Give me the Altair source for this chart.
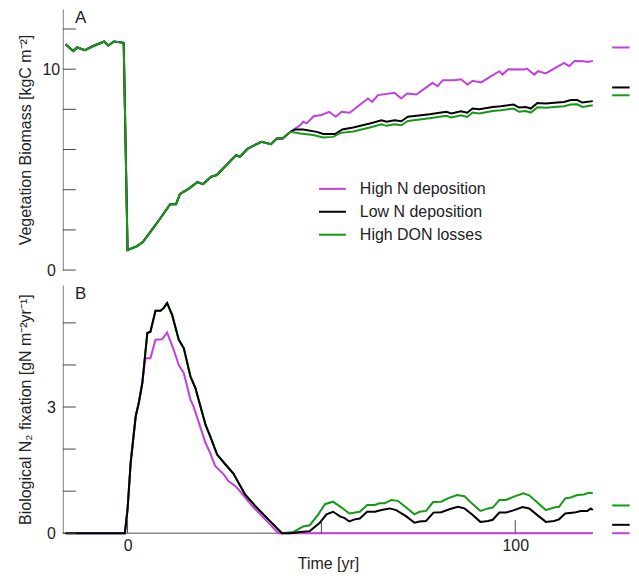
import altair as alt
import pandas as pd

SERIES = ["High N deposition", "Low N deposition", "High DON losses"]
COLORS = ["#C040E0", "#000000", "#149A14"]
FONT = "Liberation Sans"
TXT = "#222222"

X_DOMAIN = [-16.7, 129.6]
X_TICKS = [0, 50, 100]
X_LABELS = [0, 100]
AXIS_LINE_T = [-16.7, 120]

# ---------------- Panel A: vegetation biomass ----------------
bio_shared_t = [-16, -14, -13, -11, -9, -6, -5, -3.5, -1, 0, 2.5, 4, 7.5, 11, 12.5, 13.5,
                16, 18, 19.5, 21.5, 23, 28, 29, 31, 34.5, 37, 38.5, 40, 42]
bio_shared_v = [11.24, 10.9, 11.08, 10.95, 11.14, 11.38, 11.18, 11.38, 11.31, 1.0, 1.19, 1.41,
                2.32, 3.28, 3.28, 3.78, 4.08, 4.38, 4.28, 4.64, 4.73, 5.72, 5.64, 6.05, 6.38,
                6.27, 6.55, 6.55, 6.88]

hi_bio_t = [44.5, 45.3, 46.2, 48, 50, 52, 53.7, 55.2, 57.3, 62, 63.1, 64.6, 68.9, 70.6, 72.1,
            74.5, 78.7, 80, 81.3, 84.3, 86, 87.7, 89, 91.2, 93.8, 95.9, 96.7, 98.2, 102.3, 103,
            104.9, 105.9, 107.9, 110, 112.6, 113.9, 115.3, 117.7, 118.6, 120]
hi_bio_v = [7.21, 7.38, 7.3, 7.66, 7.72, 7.88, 7.63, 7.88, 7.83, 8.54, 8.37, 8.71, 8.82, 8.54,
            8.79, 8.74, 9.32, 9.15, 9.45, 9.45, 9.5, 9.24, 9.42, 9.34, 9.65, 9.9, 9.73, 10.0,
            9.98, 10.03, 9.73, 9.9, 9.79, 10.03, 10.31, 10.15, 10.41, 10.4, 10.36, 10.41]

lo_bio_t = [43.2, 45.3, 48.8, 50.5, 53.5, 55.4, 58.2, 62.5, 65.5, 66.8, 68.9, 70.6, 72.3, 77.9,
            82.2, 83.5, 84.3, 86, 87.6, 89, 90.7, 94.2, 96.3, 99.6, 101, 102.7, 104, 105.7,
            107.9, 110.9, 112.6, 114.3, 116, 117.3, 120]
lo_bio_v = [7.0, 7.0, 6.88, 6.77, 6.77, 7.0, 7.1, 7.3, 7.46, 7.38, 7.46, 7.41, 7.63, 7.76,
            7.88, 7.8, 7.83, 7.91, 7.83, 8.04, 8.01, 8.12, 8.16, 8.24, 8.09, 8.12, 8.04, 8.32,
            8.29, 8.34, 8.37, 8.46, 8.46, 8.34, 8.41]

don_bio_t = [42.8, 44.5, 47.9, 50.5, 53, 55, 58.2, 62.5, 65.5, 66.8, 68.9, 70.6, 72.3, 77.9,
             82.2, 83.5, 86, 87.6, 89, 90.7, 94.2, 96.3, 99.6, 101, 102.7, 104, 105.7, 107.9,
             110.9, 112.6, 114.3, 116, 117.3, 120]
don_bio_v = [6.86, 6.8, 6.72, 6.6, 6.63, 6.83, 6.9, 7.1, 7.26, 7.18, 7.26, 7.21, 7.42, 7.56,
             7.68, 7.6, 7.7, 7.62, 7.84, 7.8, 7.92, 7.95, 8.04, 7.88, 7.92, 7.84, 8.1, 8.08,
             8.13, 8.16, 8.24, 8.25, 8.12, 8.2]

bio_equilibrium = [11.08, 9.09, 8.7]          # purple, black, green
BIO_DOMAIN = [0, 13]
BIO_TICKS = [0, 2, 4, 6, 8, 10, 12]
BIO_LABELS = [0, 10]

# ---------------- Panel B: biological N2 fixation ----------------
fix_shared_t = [-16, -0.7, 0, 0.8, 2.1, 2.9, 3.8]
fix_shared_v = [0, 0, 0.57, 1.68, 2.78, 3.1, 3.57]

fix_peak_t = [5.1, 5.9, 7.2, 8.5, 9.3, 10.2, 11.5, 13.2, 14.5, 16.2, 17.5, 20.1, 21.3, 23.1,
              25.2, 27.3, 30.3, 32.9, 36.3, 39.8]
fix_peak_v = [4.76, 4.79, 5.29, 5.29, 5.35, 5.47, 5.19, 4.6, 4.4, 3.73, 3.45, 2.58, 2.31, 1.87,
              1.64, 1.42, 0.92, 0.65, 0.33, 0.0]

lo_fix_t = [42, 44.5, 47, 49.6, 51.3, 53, 54.8, 56, 57.2, 58.6, 59.9, 61.8, 63.8, 65.5, 67.6,
            69.3, 71.9, 74, 75.3, 77, 78.9, 80.9, 83, 85.2, 86.9, 88.8, 91, 93, 94.2, 95.9,
            97.6, 99.7, 101.9, 103.6, 105.7, 107.9, 110, 111.3, 112.9, 115.2, 116.9, 118.6,
            119.5, 120]
lo_fix_v = [0, 0.03, 0.05, 0.25, 0.45, 0.51, 0.4, 0.36, 0.28, 0.33, 0.35, 0.51, 0.51, 0.55,
            0.59, 0.55, 0.4, 0.25, 0.28, 0.29, 0.49, 0.5, 0.57, 0.63, 0.59, 0.45, 0.27, 0.29,
            0.32, 0.49, 0.49, 0.55, 0.62, 0.59, 0.43, 0.27, 0.29, 0.33, 0.47, 0.49, 0.53, 0.53,
            0.59, 0.55]

don_fix_t = [42.8, 45.3, 47, 49.2, 50.9, 53, 55.2, 57.2, 59.9, 61.8, 63.8, 65, 66.3, 68, 69.7,
             71.9, 74, 75.3, 77, 78.8, 80.9, 82.6, 85, 86.9, 88.8, 91, 93, 94.2, 95.9, 97.6,
             99.7, 102.1, 103.6, 105.7, 107.9, 110, 111.3, 112.9, 114.3, 116, 117.7, 119, 120]
don_fix_v = [0.03, 0.16, 0.19, 0.45, 0.69, 0.75, 0.61, 0.47, 0.51, 0.67, 0.67, 0.71, 0.71, 0.79,
             0.77, 0.61, 0.45, 0.51, 0.53, 0.74, 0.75, 0.83, 0.91, 0.88, 0.71, 0.53, 0.59, 0.61,
             0.79, 0.79, 0.87, 0.95, 0.9, 0.73, 0.55, 0.61, 0.63, 0.83, 0.85, 0.91, 0.92, 0.96,
             0.95]

hi_fix_t = [4.6, 5.9, 7.2, 8.9, 10.2, 11.9, 13.2, 14.5, 16.2, 17, 20.1, 21.3, 22.6, 24.8, 26,
            27.8, 28.6, 32.1, 35.5, 38.9, 120]
hi_fix_v = [4.16, 4.16, 4.6, 4.61, 4.77, 4.36, 4.0, 3.81, 3.18, 3.02, 2.15, 1.91, 1.6, 1.4,
            1.24, 1.12, 1.04, 0.65, 0.33, 0, 0]

fix_equilibrium = [0.0, 0.2, 0.66]            # purple, black, green
FIX_DOMAIN = [0, 5.9]
FIX_TICKS = [0, 1, 2, 3, 4, 5]
FIX_LABELS = [0, 3]

EQ_T = [125, 129.5]


def frame(ts, vs, name):
    return pd.DataFrame({"t": ts, "v": vs, "series": name})


def label_expr(vals):
    return " || ".join(f"datum.value == {v}" for v in vals) + " ? datum.label : ''"


xscale = alt.Scale(domain=X_DOMAIN, nice=False, zero=False)
cscale = alt.Scale(domain=SERIES, range=COLORS)


def y_axis(title, ticks, labels, height):
    return alt.Axis(values=ticks, labelExpr=label_expr(labels), ticks=False, grid=False,
                    domainColor="#808080", domainWidth=1, labelAlign="center",
                    labelBaseline="middle", labelPadding=12, labelFontSize=16,
                    labelColor=TXT, labelFont=FONT, title=title, titleFont=FONT,
                    titleFontSize=16, titleFontWeight="normal", titleColor=TXT,
                    titleAngle=270, titleX=-32, titleY=height / 2, titleAlign="center",
                    titleBaseline="alphabetic")


def panel(letter, series_frames, order, ydomain, ticks, labels, title, height, eq,
          legend, x_axis):
    yscale = alt.Scale(domain=ydomain, nice=False, zero=False)
    yax = y_axis(title, ticks, labels, height)
    layers = []
    if x_axis is not None:
        base = pd.DataFrame({"t": AXIS_LINE_T, "v": [0, 0]})
        layers.append(alt.Chart(base).mark_line(color="#8a8a8a", strokeWidth=1.5).encode(
            x=alt.X("t:Q", scale=xscale, axis=x_axis),
            y=alt.Y("v:Q", scale=yscale, axis=yax)))
    for i in order:
        layers.append(alt.Chart(series_frames[i]).mark_line(strokeWidth=2).encode(
            x=alt.X("t:Q", scale=xscale, axis=x_axis),
            y=alt.Y("v:Q", scale=yscale, axis=yax),
            color=alt.Color("series:N", scale=cscale, legend=legend)))
    eqdf = pd.DataFrame({"series": SERIES, "v": eq, "t1": EQ_T[0], "t2": EQ_T[1]})
    layers.append(alt.Chart(eqdf).mark_rule(strokeWidth=2).encode(
        x=alt.X("t1:Q", scale=xscale, axis=x_axis), x2="t2:Q",
        y=alt.Y("v:Q", scale=yscale, axis=yax),
        color=alt.Color("series:N", scale=cscale, legend=legend)))
    tdf = pd.DataFrame({"v": ticks})
    layers.append(alt.Chart(tdf).mark_rule(color="#444444", strokeWidth=1).encode(
        y=alt.Y("v:Q", scale=yscale, axis=yax), x=alt.value(0), x2=alt.value(13)))
    if x_axis is not None:
        xdf = pd.DataFrame({"t": X_TICKS})
        layers.append(alt.Chart(xdf).mark_rule(color="#444444", strokeWidth=1).encode(
            x=alt.X("t:Q", scale=xscale, axis=x_axis),
            y=alt.value(height - 13), y2=alt.value(height)))
    ldf = pd.DataFrame({"label": [letter]})
    layers.append(alt.Chart(ldf).mark_text(fontSize=17, font=FONT, color=TXT, align="center",
                                           baseline="alphabetic").encode(
        text="label:N", x=alt.value(18), y=alt.value(14)))
    return alt.layer(*layers).properties(width=569, height=height)


bio_frames = [frame(bio_shared_t + hi_bio_t, bio_shared_v + hi_bio_v, SERIES[0]),
              frame(bio_shared_t + lo_bio_t, bio_shared_v + lo_bio_v, SERIES[1]),
              frame(bio_shared_t + don_bio_t, bio_shared_v + don_bio_v, SERIES[2])]
fix_frames = [frame(fix_shared_t + hi_fix_t, fix_shared_v + hi_fix_v, SERIES[0]),
              frame(fix_shared_t + fix_peak_t + lo_fix_t, fix_shared_v + fix_peak_v + lo_fix_v, SERIES[1]),
              frame(fix_shared_t + fix_peak_t + don_fix_t, fix_shared_v + fix_peak_v + don_fix_v, SERIES[2])]

legend_a = alt.Legend(orient="none", legendX=256, legendY=166, title=None, symbolType="stroke",
                      symbolSize=729, symbolStrokeWidth=2, labelFontSize=16, labelFont=FONT,
                      labelColor=TXT, labelOffset=13, rowPadding=-4, padding=0)

x_axis_b = alt.Axis(values=X_TICKS, labelExpr=label_expr(X_LABELS), ticks=False, domain=False,
                    grid=False, labelPadding=4, labelFontSize=16, labelFont=FONT, labelColor=TXT,
                    title="Time [yr]", titleFont=FONT, titleFontSize=16, titleFontWeight="normal",
                    titleColor=TXT, titleX=266, titleY=35, titleAlign="center",
                    titleBaseline="alphabetic")

top = panel("A", bio_frames, [0, 1, 2], BIO_DOMAIN, BIO_TICKS, BIO_LABELS,
            "Vegetation Biomass [kgC m⁻²]", 262, bio_equilibrium, legend_a, None)
bottom = panel("B", fix_frames, [2, 0, 1], FIX_DOMAIN, FIX_TICKS, FIX_LABELS,
               "Biological N₂ fixation [gN m⁻²yr⁻¹]", 249, fix_equilibrium, None, x_axis_b)

chart = alt.vconcat(top, bottom, spacing=15, bounds="flush").resolve_scale(
    color="independent", x="independent", y="independent"
).properties(
    padding={"left": 9, "top": 0, "right": 0, "bottom": 5}
).configure_view(stroke=None)

chart.save("out.html", embed_options={"renderer": "svg", "actions": False})
